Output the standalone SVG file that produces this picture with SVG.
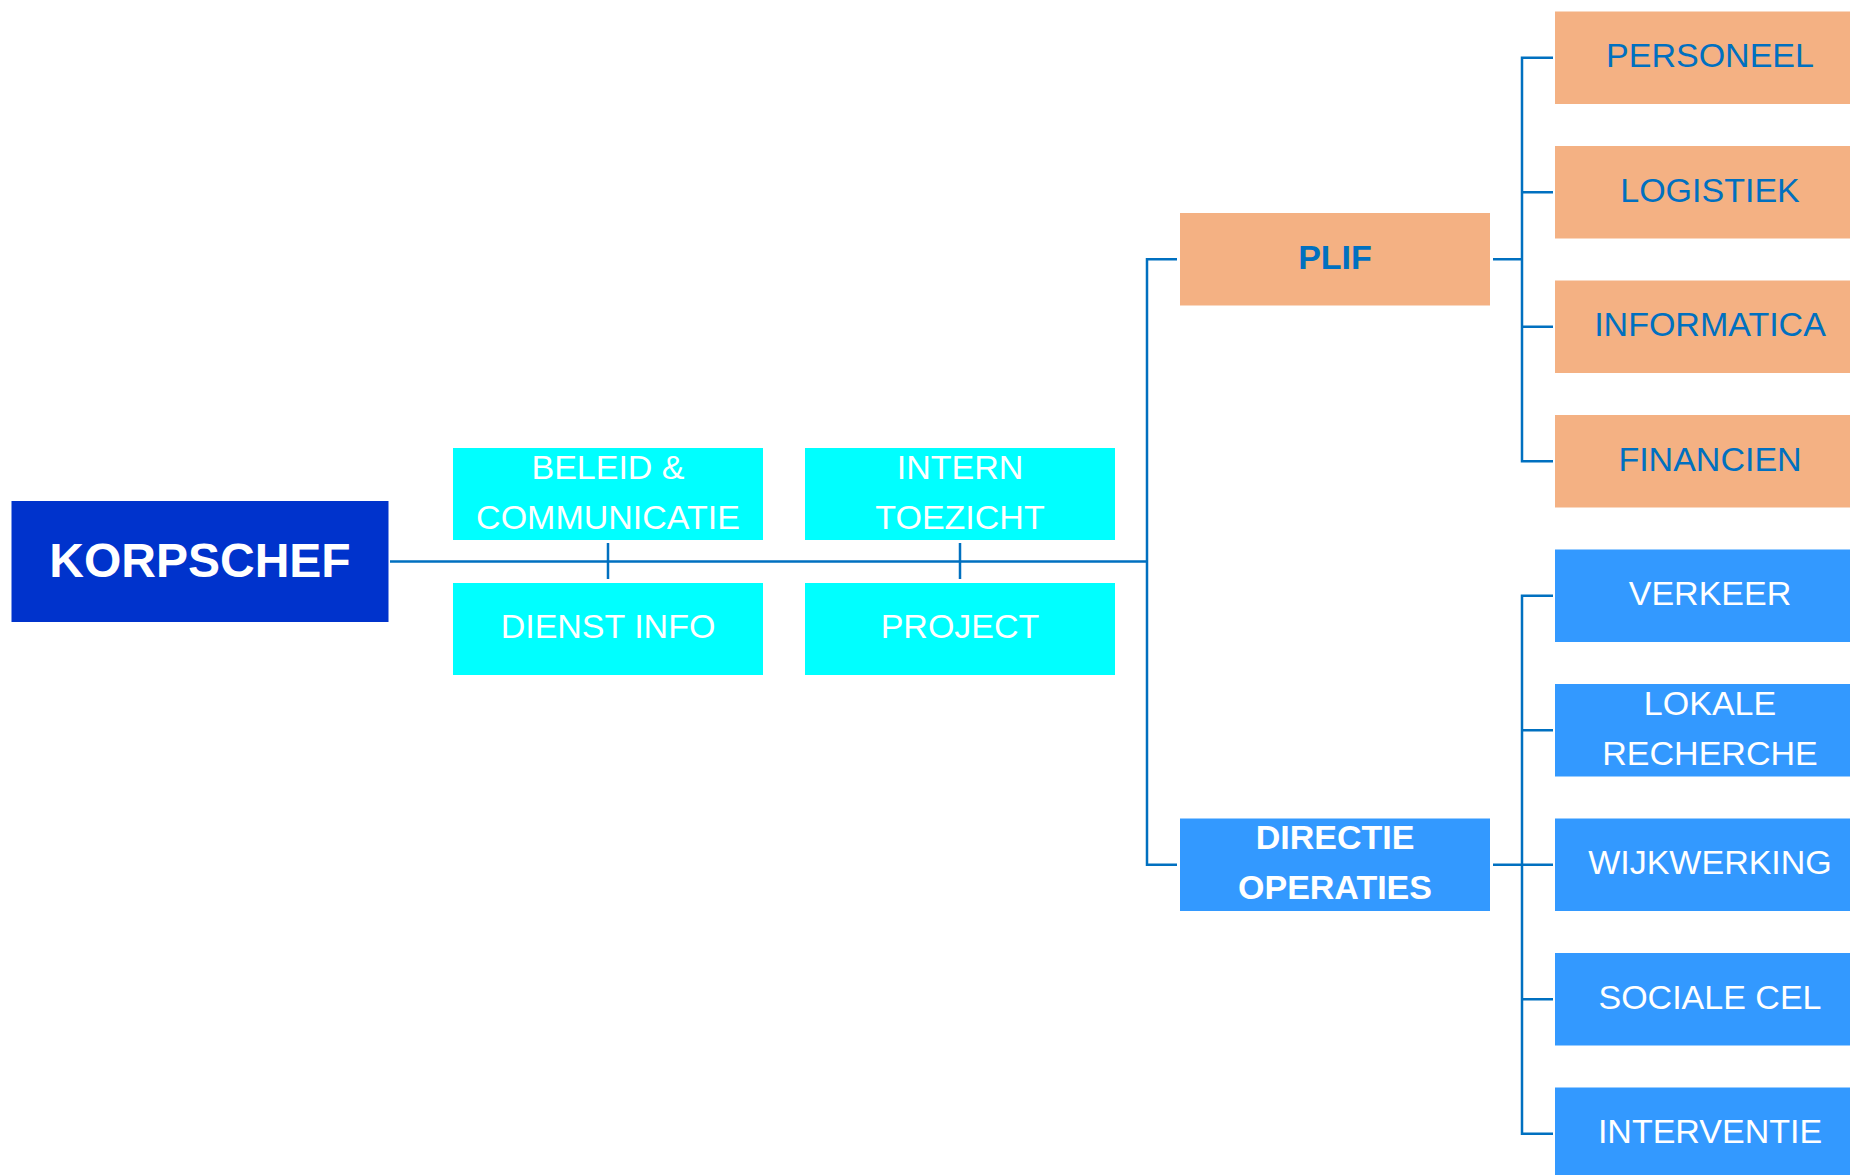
<svg xmlns="http://www.w3.org/2000/svg" width="1850" height="1175" viewBox="0 0 1850 1175">
<style>
.t{font-family:"Liberation Sans",Arial,sans-serif;font-size:34px;text-anchor:middle}
.b{font-weight:bold}
.w{fill:#FFFFFF}
.bl{fill:#0070C0}
.or{fill:#F4B183}
.cy{fill:#00FFFF}
.bb{fill:#3399FF}
.ln{stroke:#0070C0;stroke-width:2.5;fill:none}
</style>
<rect width="1850" height="1175" fill="#FFFFFF"/>
<g id="connectors">
<path class="ln" d="M390 561.5H1147M608 543V579M960 543V579"/>
<path class="ln" d="M1177 259.25H1147V864.75H1177"/>
<path class="ln" d="M1493 259.25H1522" stroke-width="3.5"/>
<path class="ln" d="M1553 57.75H1522V461.25H1553M1522 192.25H1553M1522 326.75H1553"/>
<path class="ln" d="M1493 864.75H1522" stroke-width="3.5"/>
<path class="ln" d="M1553 595.75H1522V1133.75H1553M1522 730.25H1553M1522 864.75H1553M1522 999.25H1553"/>
</g>
<g id="korpschef">
<rect x="11.5" y="501" width="377" height="121" fill="#0033CC"/>
<text class="t b w" x="200" y="577" style="font-size:48px">KORPSCHEF</text>
</g>
<g id="beleid">
<rect class="cy" x="453" y="448" width="310" height="92"/>
<text class="t w" x="608" y="479">BELEID &amp;</text>
<text class="t w" x="608" y="529">COMMUNICATIE</text>
</g>
<g id="intern">
<rect class="cy" x="805" y="448" width="310" height="92"/>
<text class="t w" x="960" y="479">INTERN</text>
<text class="t w" x="960" y="529">TOEZICHT</text>
</g>
<g id="dienstinfo">
<rect class="cy" x="453" y="583" width="310" height="92"/>
<text class="t w" x="608" y="638">DIENST INFO</text>
</g>
<g id="project">
<rect class="cy" x="805" y="583" width="310" height="92"/>
<text class="t w" x="960" y="638">PROJECT</text>
</g>
<g id="plif">
<rect class="or" x="1180" y="213" width="310" height="92.5"/>
<text class="t b bl" x="1335" y="268.5">PLIF</text>
</g>
<g id="directie">
<rect class="bb" x="1180" y="818.5" width="310" height="92.5"/>
<text class="t b w" x="1335" y="849">DIRECTIE</text>
<text class="t b w" x="1335" y="899">OPERATIES</text>
</g>
<g id="personeel">
<rect class="or" x="1555" y="11.5" width="310" height="92.5"/>
<text class="t bl" x="1710" y="67">PERSONEEL</text>
</g>
<g id="logistiek">
<rect class="or" x="1555" y="146" width="310" height="92.5"/>
<text class="t bl" x="1710" y="201.5">LOGISTIEK</text>
</g>
<g id="informatica">
<rect class="or" x="1555" y="280.5" width="310" height="92.5"/>
<text class="t bl" x="1710" y="336">INFORMATICA</text>
</g>
<g id="financien">
<rect class="or" x="1555" y="415" width="310" height="92.5"/>
<text class="t bl" x="1710" y="470.5">FINANCIEN</text>
</g>
<g id="verkeer">
<rect class="bb" x="1555" y="549.5" width="310" height="92.5"/>
<text class="t w" x="1710" y="605">VERKEER</text>
</g>
<g id="lokale">
<rect class="bb" x="1555" y="684" width="310" height="92.5"/>
<text class="t w" x="1710" y="715">LOKALE</text>
<text class="t w" x="1710" y="765">RECHERCHE</text>
</g>
<g id="wijkwerking">
<rect class="bb" x="1555" y="818.5" width="310" height="92.5"/>
<text class="t w" x="1710" y="874">WIJKWERKING</text>
</g>
<g id="sociale">
<rect class="bb" x="1555" y="953" width="310" height="92.5"/>
<text class="t w" x="1710" y="1008.5">SOCIALE CEL</text>
</g>
<g id="interventie">
<rect class="bb" x="1555" y="1087.5" width="310" height="92.5"/>
<text class="t w" x="1710" y="1143">INTERVENTIE</text>
</g>
</svg>
